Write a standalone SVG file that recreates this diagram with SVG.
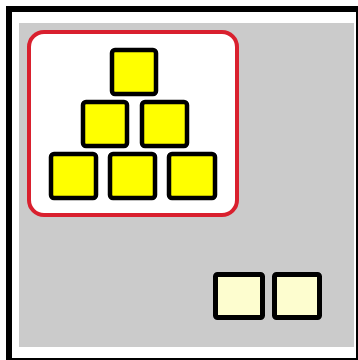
<svg xmlns="http://www.w3.org/2000/svg" width="358" height="360" viewBox="0 0 358 360">
<style>
.sq{fill:#ffff00;stroke:#000;stroke-width:4.5}
.sm{fill:#fdfdcf;stroke:#000;stroke-width:5}
</style>
<rect x="0" y="0" width="358" height="360" fill="#fff"/>
<rect x="9" y="9" width="350" height="352" fill="#fff" stroke="#000" stroke-width="6"/>
<rect x="19" y="23" width="335" height="324" fill="#cbcbcb"/>
<g id="group">
<rect x="29" y="32" width="208" height="183" rx="15" fill="#fff" stroke="#d9202e" stroke-width="4"/>
</g>
<g id="n1"><rect class="sq" x="112" y="50" width="44" height="44" rx="3"/></g>
<g id="n2"><rect class="sq" x="83" y="102" width="44" height="44" rx="3"/></g>
<g id="n3"><rect class="sq" x="142" y="102" width="45" height="44" rx="3"/></g>
<g id="n4"><rect class="sq" x="51" y="154" width="45" height="44" rx="3"/></g>
<g id="n5"><rect class="sq" x="110" y="154" width="45" height="44" rx="3"/></g>
<g id="n6"><rect class="sq" x="169" y="154" width="46" height="44" rx="3"/></g>
<g id="n7"><rect class="sm" x="215.5" y="274.5" width="47" height="43" rx="2"/></g>
<g id="n8"><rect class="sm" x="274.5" y="274.5" width="45" height="43" rx="2"/></g>
<g id="connectors"></g>
</svg>
